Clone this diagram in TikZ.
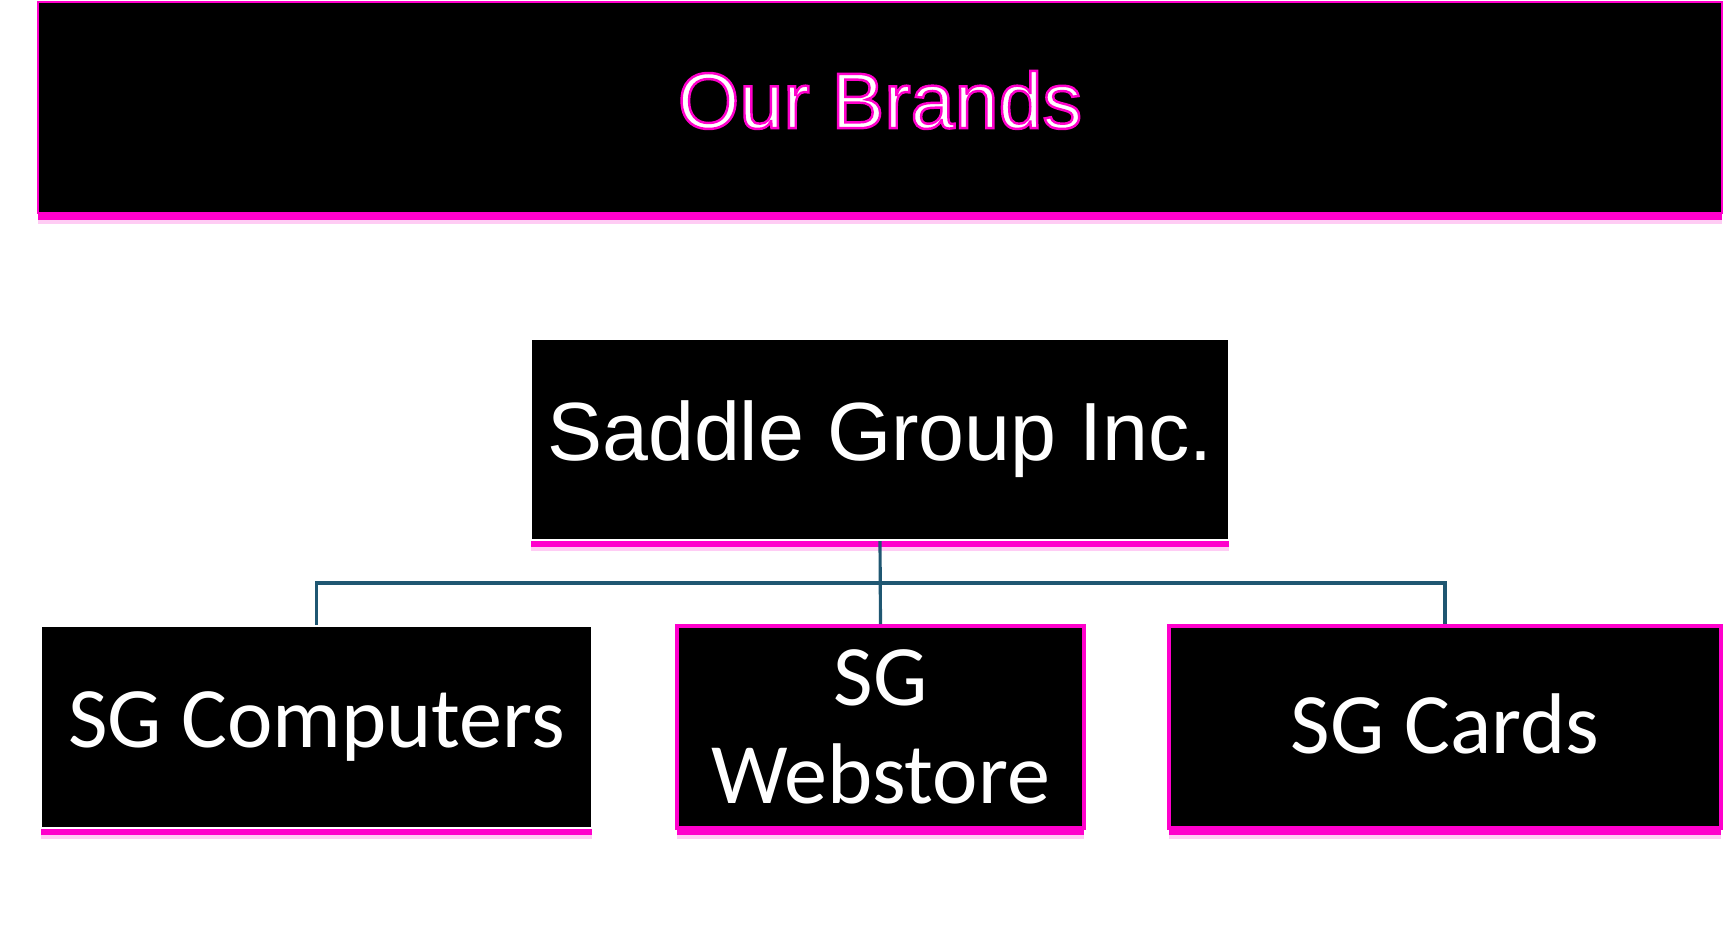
\documentclass[tikz,border=0pt]{standalone}
\usepackage{fontspec}
\setmainfont{Liberation Sans}
\newfontfamily\calibri{Carlito}
\usepackage{xcolor}
\usepackage{tikz}
\usetikzlibrary{calc,shadows}
\definecolor{bg}{HTML}{FFFFFF}
\definecolor{boxfill}{HTML}{000000}
\definecolor{text}{HTML}{FFFFFF}
\definecolor{glow}{HTML}{FF00CC}
\definecolor{link}{HTML}{1F5772}
% outlined text: fill white, stroke in glow colour
\newcommand{\glowtext}[1]{\special{pdf:literal direct 2 Tr 0.7 w 1 0 0.8 RG}#1\special{pdf:literal direct 0 Tr}}
\tikzset{
  glowshadow/.style={
    drop shadow={shadow xshift=0pt, shadow yshift=-0.11cm, fill=glow, opacity=0.2},
    drop shadow={shadow xshift=0pt, shadow yshift=-0.07cm, fill=glow, opacity=1}},
  brandbox/.style={draw=glow, line width=0.6pt, fill=boxfill, glowshadow, text=text,
    inner sep=0pt, minimum width=16.84cm, minimum height=2.11cm,
    font=\fontsize{22.5}{27}\selectfont},
  groupbox/.style={draw=text, line width=0.7pt, fill=boxfill, glowshadow, text=text,
    inner sep=0pt, minimum width=6.98cm, minimum height=2.01cm,
    font=\fontsize{23.5}{28}\selectfont},
  whitebox/.style={draw=text, line width=0.7pt, fill=boxfill, glowshadow, text=text,
    inner sep=0pt, minimum height=2.02cm, align=center,
    font=\calibri\fontsize{24.5}{28}\selectfont},
  pinkbox/.style={whitebox, draw=glow, line width=1pt},
  link/.style={draw=link, line width=0.9pt}
}
\begin{document}
\begin{tikzpicture}
  \fill[bg] (0,0) rectangle (17.32,9.25);
  \useasboundingbox (0,0) rectangle (17.32,9.25);

  % Title bar
  \node[brandbox, text depth=0.45em] (brands) at (8.80,8.175) {\glowtext{Our Brands}};

  % Tree
  \node[groupbox] (saddle) at (8.80,4.855) {Saddle Group Inc.};
  \node[whitebox, minimum width=5.51cm] (computers) at (3.165,1.98) {SG Computers};
  \node[pinkbox, minimum width=4.07cm] (webstore) at (8.805,1.98) {SG\\Webstore};
  \node[pinkbox, minimum width=5.52cm, text depth=0.2em] (cards) at (14.45,1.98) {SG Cards};

  \coordinate (bar) at (8.80,3.42);
  \draw[link] (saddle.south) -- (webstore.north);
  \draw[link] (computers.north) |- (bar) -| (cards.north);
\end{tikzpicture}
\end{document}
